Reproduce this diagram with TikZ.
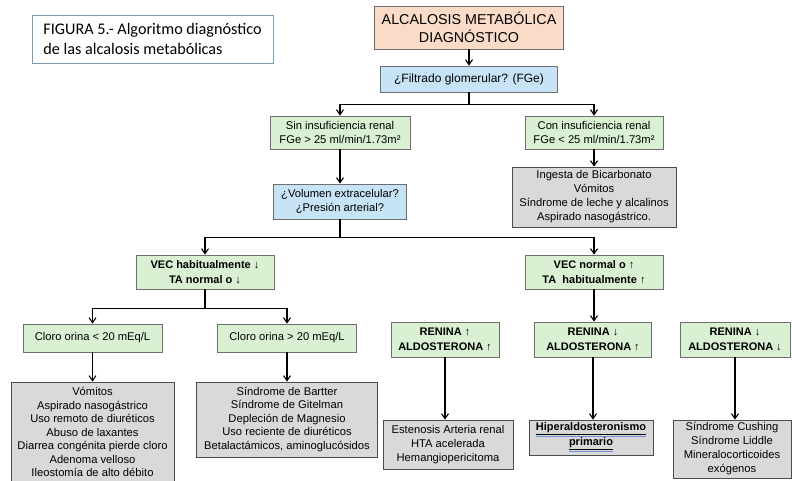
\documentclass[tikz,border=0pt]{standalone}
\usepackage{fontspec}
\setmainfont{Liberation Sans}
\newfontfamily\titlefont{Carlito}
\usetikzlibrary{arrows.meta,positioning}
\definecolor{peachfill}{HTML}{FADBC8}
\definecolor{bluefill}{HTML}{C6E4F5}
\definecolor{greenfill}{HTML}{D9F0D3}
\definecolor{grayfill}{HTML}{D9D9D9}
\definecolor{boxline}{HTML}{6E6E6E}
\definecolor{titleline}{HTML}{7A9CB5}
\definecolor{spellblue}{HTML}{6F8FE0}
\newcommand{\spellund}[1]{\textcolor{spellblue}{\underline{\textcolor{black}{\underline{#1}}}}}

\begin{document}
\begin{tikzpicture}[x=1pt,y=-1pt,>={Straight Barb[length=5pt,width=7pt]}]
\tikzstyle{box}=[draw=boxline,line width=0.8pt,align=center,inner sep=2pt,
font=\fontsize{11.2}{14}\selectfont]
\tikzstyle{peachbox}=[box,fill=peachfill,font=\fontsize{14.3}{17.5}\selectfont]
\tikzstyle{bluebox}=[box,fill=bluefill]
\tikzstyle{greenbox}=[box,fill=greenfill]
\tikzstyle{graybox}=[box,fill=grayfill,draw=black!70]
\tikzstyle{conn}=[->,line width=1.1pt]
\useasboundingbox[fill=white] (0,0) rectangle (792,481);

\node[draw=titleline,line width=0.8pt,minimum width=241pt,minimum height=48pt,
align=left,font=\titlefont\fontsize{16.2}{20}\selectfont] at (152.5,39) (titulo)
{FIGURA 5.- Algoritmo diagnóstico\\de las alcalosis metabólicas};

\node[peachbox,minimum width=189pt,minimum height=43pt] at (469,27.5) (alc)
{ALCALOSIS METABÓLICA\\DIAGNÓSTICO};
\node[bluebox,minimum width=177pt,minimum height=26pt,font=\fontsize{12}{14}\selectfont]
at (469,79) (filt) {¿Filtrado glomerular? (FGe)};

\node[greenbox,minimum width=140pt,minimum height=33pt] at (340,132.5) (sin)
{Sin insuficiencia renal\\FGe > 25 ml/min/1.73m²};
\node[greenbox,minimum width=138pt,minimum height=33pt] at (594,132.5) (con)
{Con insuficiencia renal\\FGe < 25 ml/min/1.73m²};
\node[bluebox,minimum width=133pt,minimum height=35pt] at (340,201.5) (vol)
{¿Volumen extracelular?\\¿Presión arterial?};
\node[graybox,minimum width=164pt,minimum height=60pt] at (594,197) (ing)
{Ingesta de Bicarbonato\\Vómitos\\Síndrome de leche y alcalinos\\Aspirado nasogástrico.};

\node[greenbox,minimum width=138pt,minimum height=34pt,font=\bfseries\fontsize{11}{15}\selectfont]
at (205,272) (vech) {VEC habitualmente ↓\\TA normal o ↓};
\node[greenbox,minimum width=138pt,minimum height=34pt,font=\bfseries\fontsize{11}{15}\selectfont]
at (594,272) (vecn) {VEC normal o ↑\\TA\ \ habitualmente ↑};

\node[greenbox,minimum width=139pt,minimum height=28pt] at (92.5,338) (clbajo)
{Cloro orina < 20 mEq/L};
\node[greenbox,minimum width=139pt,minimum height=28pt] at (287,338) (clalto)
{Cloro orina > 20 mEq/L};
\node[graybox,minimum width=163pt,minimum height=100pt,font=\fontsize{11.2}{13.5}\selectfont]
at (92.5,432) (vom) {Vómitos\\Aspirado nasogástrico\\Uso remoto de diuréticos\\Abuso de laxantes\\
Diarrea congénita pierde cloro\\Adenoma velloso\\Ileostomía de alto débito};
\node[graybox,minimum width=181pt,minimum height=75pt,font=\fontsize{11.2}{13.5}\selectfont]
at (287,419.5) (bart) {Síndrome de Bartter\\Síndrome de Gitelman\\Depleción de Magnesio\\
Uso reciente de diuréticos\\Betalactámicos, aminoglucósidos};

\node[greenbox,minimum width=108pt,minimum height=35pt,font=\bfseries\fontsize{11}{15}\selectfont]
at (445,339.5) (renaa) {RENINA ↑\\ALDOSTERONA ↑};
\node[greenbox,minimum width=117pt,minimum height=35pt,font=\bfseries\fontsize{11}{15}\selectfont]
at (593,339.5) (renba) {RENINA ↓\\ALDOSTERONA ↑};
\node[greenbox,minimum width=110pt,minimum height=35pt,font=\bfseries\fontsize{11}{15}\selectfont]
at (735,339.5) (renbb) {RENINA ↓\\ALDOSTERONA ↓};

\node[graybox,minimum width=130pt,minimum height=49pt] at (448,444.5) (est)
{Estenosis Arteria renal\\HTA acelerada\\Hemangiopericitoma};
\node[graybox,minimum width=124pt,minimum height=35pt,font=\bfseries\fontsize{11}{15}\selectfont]
at (591,437.5) (hip) {\spellund{Hiperaldosteronismo}\\\spellund{primario}};
\node[graybox,minimum width=118pt,minimum height=58pt] at (732,449) (cush)
{Síndrome Cushing\\Síndrome Liddle\\Mineralocorticoides\\exógenos};

\draw[conn] (alc) -- (filt);
\draw[conn] (filt.south) -- ++(0,12) -| (sin.north);
\draw[conn] (filt.south) -- ++(0,12) -| (con.north);
\draw[conn] (sin) -- (vol);
\draw[conn] (con) -- (ing);
\draw[conn] (vol.south) -- ++(0,18) -| (vech.north);
\draw[conn] (vol.south) -- ++(0,18) -| (vecn.north);
\draw[conn] (vech.south) -- ++(0,19) -| (clbajo.north);
\draw[conn] (vech.south) -- ++(0,19) -| (clalto.north);
\draw[conn] (clbajo) -- (vom);
\draw[conn] (clalto) -- (bart);
\draw[conn] (vecn) -- (vecn |- renba.north);
\draw[conn] (renaa.south) -- (renaa.south |- est.north);
\draw[conn] (renba.south) -- (renba.south |- hip.north);
\draw[conn] (renbb.south) -- (renbb.south |- cush.north);

\end{tikzpicture}
\end{document}
